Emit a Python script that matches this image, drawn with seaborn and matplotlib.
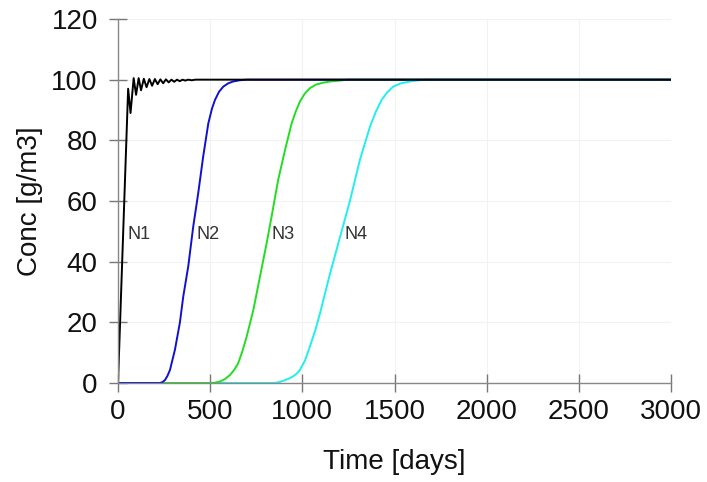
import matplotlib
matplotlib.use("Agg")
import matplotlib.pyplot as plt
import seaborn as sns
import pandas as pd

# values
n1_t = [0, 55, 68, 85, 98, 112, 125, 140, 155, 170, 185, 200, 215, 230, 245,
        260, 275, 290, 305, 320, 335, 350, 365, 380, 400, 420, 450, 3000]
n1_c = [0, 97, 89, 100.5, 95, 100.5, 96.5, 100.3, 97.5, 100.2, 98, 100.2, 98.5,
        100.1, 98.8, 100.1, 99.1, 100, 99.3, 100, 99.5, 100, 99.7, 100, 99.8,
        100, 100, 100]

n2_t = [0, 228, 242, 255, 268, 282, 309, 336, 354, 381, 408, 435, 462, 490,
        510, 526, 548, 571, 598, 625, 660, 698, 3000]
n2_c = [0, 0, 0.3, 1, 2.3, 4.3, 11, 20, 28.5, 38.4, 51.5, 62.5, 74.6, 85.6,
        90.5, 93.3, 96, 97.7, 98.8, 99.4, 99.8, 100, 100]

n3_t = [0, 499, 526, 553, 580, 607, 630, 652, 675, 698, 734, 770, 806, 833,
        869, 906, 942, 965, 987, 1012, 1041, 1075, 1113, 1150, 1186, 1250, 3000]
n3_c = [0, 0, 0.1, 0.5, 1.3, 2.6, 4.3, 6.5, 10.5, 15.3, 24, 35, 46, 54.8,
        67, 76.8, 85.6, 89.6, 92.8, 95.3, 97.2, 98.4, 99, 99.4, 99.6, 100, 100]

n4_t = [0, 850, 875, 900, 925, 950, 970, 987, 1015, 1041, 1070, 1096, 1150,
        1204, 1258, 1312, 1367, 1400, 1430, 1460, 1493, 1535, 1584, 1630, 1674,
        3000]
n4_c = [0, 0, 0.3, 0.8, 1.4, 2.2, 3.1, 4.3, 7.5, 12, 17.3, 23, 36, 48, 60,
        73.5, 84.5, 89.6, 93.3, 95.8, 97.7, 98.8, 99.4, 99.8, 100, 100]

names = ["N1", "N2", "N3", "N4"]
label_t = [49, 428, 835, 1231]
label_c = 49

series = {
    "N1": (n1_t, n1_c, "#000000"),
    "N2": (n2_t, n2_c, "#1010d0"),
    "N3": (n3_t, n3_c, "#22dd22"),
    "N4": (n4_t, n4_c, "#22eeee"),
}


def main():
    sns.set_theme(style="white")
    plt.rcParams["font.family"] = ["Liberation Sans", "DejaVu Sans"]

    fig = plt.figure(figsize=(7.07, 4.82), dpi=100)
    ax = fig.add_axes([0.1669, 0.2054, 0.9491 - 0.1669, 0.9606 - 0.2054])

    # draw back to front so N1 sits on top
    for name in reversed(names):
        t, c, col = series[name]
        df = pd.DataFrame({"t": t, "c": c})
        sns.lineplot(data=df, x="t", y="c", color=col, lw=1.4,
                     estimator=None, sort=False, ax=ax)

    for name, tx in zip(names, label_t):
        ax.text(tx, label_c, name, fontsize=13, color="#333333",
                va="center", ha="left")

    ax.set_xlim(0, 3000)
    ax.set_ylim(0, 120)
    ax.set_xticks(range(0, 3001, 500))
    ax.set_yticks(range(0, 121, 20))
    ax.grid(True, color="#f2f2f2", lw=0.8)
    ax.set_axisbelow(True)

    sns.despine(ax=ax)
    for s in ["left", "bottom"]:
        ax.spines[s].set_color("#888888")
        ax.spines[s].set_linewidth(1.0)
    ax.tick_params(bottom=True, left=True, direction="inout", length=13,
                   width=1, color="#777777", labelsize=20,
                   labelcolor="#111111")
    ax.tick_params(axis="x", pad=5)
    ax.tick_params(axis="y", pad=8)

    ax.set_xlabel("Time [days]", fontsize=20, color="#111111", labelpad=17)
    ax.set_ylabel("Conc [g/m3]", fontsize=20, color="#111111", labelpad=6)

    fig.savefig("out.png", dpi=100)


if __name__ == "__main__":
    main()
